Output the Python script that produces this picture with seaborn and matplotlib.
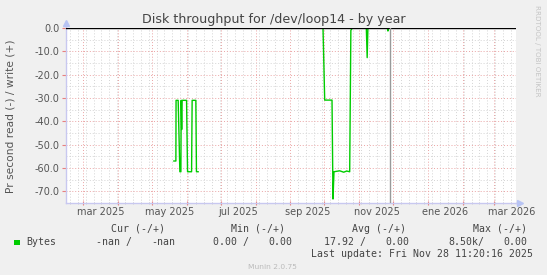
import matplotlib
matplotlib.use("Agg")
import matplotlib.pyplot as plt
import matplotlib.dates as mdates
from matplotlib.patches import Rectangle
from matplotlib.transforms import blended_transform_factory
import pandas as pd
import seaborn as sns

# ---------------- data (read values, negative = read) ----------------
left_times = ["2025-05-20 08:00", "2025-05-22 03:00", "2025-05-22 07:00", "2025-05-24 04:00",
              "2025-05-25 16:00", "2025-05-26 14:00", "2025-05-26 20:00", "2025-05-27 07:00",
              "2025-05-27 17:00", "2025-05-31 15:00", "2025-06-01 12:00", "2025-06-05 02:00",
              "2025-06-05 14:00", "2025-06-08 21:00", "2025-06-09 10:00", "2025-06-10 22:00"]
left_vals = [-57.0, -57.0, -31.0, -31.0,
             -61.6, -61.6, -31.0, -43.5,
             -31.0, -31.0, -61.6, -61.6,
             -31.0, -31.0, -61.6, -61.6]

right_times = ["2025-09-29 11:00", "2025-09-29 22:00", "2025-10-01 10:00", "2025-10-07 22:00",
               "2025-10-08 19:00", "2025-10-09 16:00", "2025-10-14 18:00", "2025-10-18 07:00",
               "2025-10-20 23:00", "2025-10-23 15:00", "2025-10-24 16:00", "2025-10-26 00:00",
               "2025-11-07 10:00", "2025-11-08 04:00", "2025-11-08 20:00", "2025-11-26 04:00",
               "2025-11-26 15:00", "2025-11-27 01:00", "2025-11-28 11:00"]
right_vals = [0.0, 0.0, -30.9, -30.9,
              -73.3, -61.6, -61.2, -61.8,
              -61.3, -61.6, -1.0, 0.0,
              0.0, -12.7, 0.0, 0.0,
              -1.3, 0.0, 0.0]

now_time = "2025-11-28 11:20"
x_start = "2025-02-13 11:00"
x_end = "2026-03-20 11:00"

month_labels = ["mar 2025", "may 2025", "jul 2025", "sep 2025", "nov 2025", "ene 2026", "mar 2026"]
month_label_dates = ["2025-03-16 12:00", "2025-05-16 12:00", "2025-07-16 12:00", "2025-09-16 12:00",
                     "2025-11-16 12:00", "2026-01-16 12:00", "2026-03-16 12:00"]

y_ticks = [0, -10, -20, -30, -40, -50, -60, -70]
y_tick_labels = ["0.0", "-10.0", "-20.0", "-30.0", "-40.0", "-50.0", "-60.0", "-70.0"]

title = "Disk throughput for /dev/loop14 - by year"
ylabel = "Pr second read (-) / write (+)"
legend_headers = ["Cur (-/+)", "Min (-/+)", "Avg (-/+)", "Max (-/+)"]
series_name = "Bytes"
legend_values = ["-nan /", "-nan", "0.00 /", "0.00", "17.92 /", "0.00", "8.50k/", "0.00"]
last_update = "Last update: Fri Nov 28 11:20:16 2025"
munin_version = "Munin 2.0.75"
rrd_credit = "RRDTOOL / TOBI OETIKER"

# ---------------- figure ----------------
W, H = 547, 275
fig = plt.figure(figsize=(W / 100, H / 100), dpi=100, facecolor="#f0f0f0")

def fx(x):
    return x / W

def fy(y):
    return 1 - y / H

ax_l, ax_t, ax_r, ax_b = 66, 28, 516, 203
ax = fig.add_axes([fx(ax_l), fy(ax_b), (ax_r - ax_l) / W, (ax_b - ax_t) / H])
ax.set_facecolor("white")

df = pd.concat([
    pd.DataFrame({"time": pd.to_datetime(left_times), "value": left_vals, "seg": 0}),
    pd.DataFrame({"time": pd.to_datetime(right_times), "value": right_vals, "seg": 1}),
])

ax.set_xlim(pd.Timestamp(x_start), pd.Timestamp(x_end))
ax.set_ylim(-75, 0)

# grid
ax.xaxis.set_major_locator(mdates.MonthLocator())
ax.xaxis.set_minor_locator(mdates.WeekdayLocator(byweekday=mdates.MO))
ax.xaxis.set_major_formatter(plt.NullFormatter())
ax.set_yticks(y_ticks)
ax.set_yticklabels(y_tick_labels)
ax.set_yticks([-5, -15, -25, -35, -45, -55, -65, -75], minor=True)

ax.grid(which="minor", color="#d4d4d4", linestyle=(0, (1, 2)), linewidth=0.7, zorder=0)
ax.grid(which="major", color="#eba4a4", linestyle=(0, (1, 2)), linewidth=0.7, zorder=0)
ax.set_axisbelow(True)

sns.lineplot(data=df, x="time", y="value", units="seg", estimator=None, sort=False,
             color="#00cc00", linewidth=1.0, ax=ax, legend=False, zorder=3)

ax.axhline(0, color="black", linewidth=1.0, zorder=4)
ax.axvline(pd.Timestamp(now_time), color="#999999", linewidth=1.0, zorder=4)

ax.set_xlabel("")
ax.set_ylabel("")

for s in ["top", "right"]:
    ax.spines[s].set_visible(False)
axis_col = "#c8c8f0"
for s in ["left", "bottom"]:
    ax.spines[s].set_color(axis_col)
    ax.spines[s].set_linewidth(1.0)
# axis extensions and arrows
ax.plot([0, 0], [1.0, 1.03], transform=ax.transAxes, color=axis_col, lw=1.0, clip_on=False)
ax.plot([1.0, 1.008], [0, 0], transform=ax.transAxes, color=axis_col, lw=1.0, clip_on=False)
ax.plot([0], [1.03], marker="^", markersize=4, color="#b8c4f4", transform=ax.transAxes, clip_on=False)
ax.plot([1.008], [0], marker=">", markersize=4, color="#b8c4f4", transform=ax.transAxes, clip_on=False)

ax.tick_params(axis="x", which="major", length=3, color="#e88080", direction="inout")
ax.tick_params(axis="x", which="minor", length=2, color="#c8c8c8", direction="inout")
ax.tick_params(axis="y", which="major", length=3, color="#e88080", direction="out",
               labelsize=7, labelcolor="#555555", pad=1.5)
ax.tick_params(axis="y", which="minor", length=0)

trans = blended_transform_factory(ax.transData, ax.transAxes)
for d, lab in zip(month_label_dates, month_labels):
    ax.text(pd.Timestamp(d), -8.7 / 175, lab, transform=trans, ha="center", va="center",
            fontsize=7, color="#555555", clip_on=False)

# title and labels
fig.text(fx(274), fy(20), title, ha="center", va="center", fontsize=9.1, color="#444444")
fig.text(fx(11), fy(116), ylabel, ha="center", va="center", rotation=90, fontsize=7.7, color="#555555")
fig.text(fx(537), fy(51), rrd_credit, ha="center", va="center", rotation=-90, fontsize=5.1, color="#c4c4c4")

# legend
mono = "DejaVu Sans Mono"
lfs = 7.15
lcol = "#444444"
for xpos, txt in zip([111, 231, 352, 473], legend_headers):
    fig.text(fx(xpos), fy(228.6), txt, ha="left", va="center", family=mono, fontsize=lfs, color=lcol)
fig.add_artist(Rectangle((fx(14), fy(245)), 5.5 / W, 5.5 / H, transform=fig.transFigure,
                         facecolor="#00cc00", edgecolor="none"))
fig.text(fx(26), fy(242), series_name, ha="left", va="center", family=mono, fontsize=lfs, color=lcol)
for xpos, txt in zip([96, 151, 213, 268, 324.5, 385.6, 448, 503], legend_values):
    fig.text(fx(xpos), fy(242), txt, ha="left", va="center", family=mono, fontsize=lfs, color=lcol)
fig.text(fx(532.8), fy(254), last_update, ha="right", va="center", family=mono, fontsize=lfs, color=lcol)
fig.text(fx(272.6), fy(267), munin_version, ha="center", va="center", fontsize=5.4, color="#bbbbbb")

fig.savefig("out.png", dpi=100, facecolor=fig.get_facecolor())
